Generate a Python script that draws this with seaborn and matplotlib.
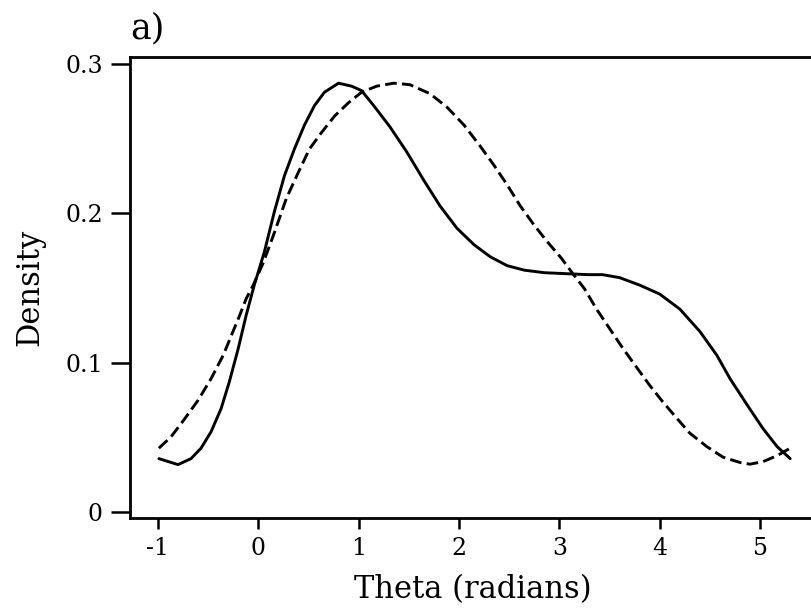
import numpy as np
import pandas as pd
import matplotlib
matplotlib.use("Agg")
import matplotlib.pyplot as plt
import seaborn as sns

# Kernel density estimate of the angles (solid)
theta_kde = [-0.99, -0.80, -0.67, -0.57, -0.47, -0.37, -0.29, -0.20, -0.12, -0.04,
             0.06, 0.16, 0.26, 0.36, 0.46, 0.56, 0.66, 0.80, 0.93, 1.03,
             1.15, 1.31, 1.48, 1.65, 1.81, 1.98, 2.15, 2.31, 2.48, 2.65,
             2.85, 3.05, 3.28, 3.43, 3.60, 3.80, 4.00, 4.20, 4.40, 4.57,
             4.70, 4.87, 5.03, 5.17, 5.30]
density_kde = [0.036, 0.032, 0.036, 0.043, 0.054, 0.0695, 0.087, 0.1095, 0.132, 0.152,
               0.174, 0.201, 0.225, 0.243, 0.259, 0.272, 0.281, 0.287, 0.285, 0.282,
               0.272, 0.258, 0.241, 0.222, 0.205, 0.190, 0.179, 0.171, 0.165, 0.162,
               0.1603, 0.1597, 0.159, 0.159, 0.157, 0.152, 0.146, 0.136, 0.121, 0.105,
               0.0895, 0.072, 0.056, 0.044, 0.036]

# Fitted model density (dashed)
theta_fit = [-0.99, -0.87, -0.74, -0.60, -0.47, -0.35, -0.27, -0.19, -0.12, -0.05,
             0.05, 0.16, 0.28, 0.40, 0.51, 0.63, 0.76, 0.90, 1.03, 1.18,
             1.35, 1.51, 1.71, 1.88, 2.05, 2.21, 2.35, 2.48, 2.61, 2.75,
             2.88, 3.02, 3.13, 3.25, 3.37, 3.50, 3.63, 3.77, 3.90, 4.03,
             4.17, 4.30, 4.47, 4.63, 4.80, 4.90, 5.03, 5.17, 5.30]
density_fit = [0.043, 0.0505, 0.062, 0.075, 0.0895, 0.105, 0.118, 0.131, 0.143, 0.152,
               0.167, 0.187, 0.210, 0.2275, 0.243, 0.254, 0.265, 0.274, 0.281, 0.285,
               0.287, 0.286, 0.280, 0.271, 0.259, 0.245, 0.232, 0.219, 0.205, 0.192,
               0.181, 0.170, 0.160, 0.1496, 0.136, 0.123, 0.110, 0.097, 0.085, 0.074,
               0.063, 0.053, 0.044, 0.037, 0.0334, 0.0323, 0.034, 0.038, 0.043]

x_ticks = [-1, 0, 1, 2, 3, 4, 5]
x_tick_labels = ["-1", "0", "1", "2", "3", "4", "5"]
y_ticks = [0, 0.1, 0.2, 0.3]
y_tick_labels = ["0", "0.1", "0.2", "0.3"]

df = pd.concat([
    pd.DataFrame({"theta": theta_kde, "density": density_kde, "curve": "kde"}),
    pd.DataFrame({"theta": theta_fit, "density": density_fit, "curve": "fit"}),
], ignore_index=True)

sns.set_style("ticks")
plt.rcParams["font.family"] = ["DejaVu Serif"]
plt.rcParams["text.color"] = "black"
plt.rcParams["axes.labelcolor"] = "black"

fig = plt.figure(figsize=(8.11, 6.09), dpi=100)
ax = fig.add_axes([0.1603, 0.1494, 0.845, 0.757])

sns.lineplot(data=df, x="theta", y="density", hue="curve", style="curve",
             palette={"kde": "black", "fit": "black"},
             dashes={"kde": "", "fit": (4, 1.8)},
             linewidth=2.1, sort=False, estimator=None, legend=False, ax=ax)
for line in ax.lines:
    line.set_solid_joinstyle("round")
    line.set_dash_joinstyle("round")

ax.set_xlim(-1.278, 5.55)
ax.set_ylim(-0.0037, 0.3045)
ax.set_xticks(x_ticks)
ax.set_xticklabels(x_tick_labels)
ax.set_yticks(y_ticks)
ax.set_yticklabels(y_tick_labels)

for side in ["left", "bottom", "top"]:
    ax.spines[side].set_linewidth(2.0)
    ax.spines[side].set_color("black")
ax.spines["right"].set_visible(False)

ax.tick_params(axis="both", colors="black", width=1.8, labelsize=17, pad=6)
ax.tick_params(axis="y", length=13.5)
ax.tick_params(axis="x", length=8)

ax.set_xlabel("Theta (radians)", fontsize=22, labelpad=10, color="black")
ax.set_ylabel("Density", fontsize=22, labelpad=14, color="black")
ax.set_title("a)", loc="left", fontsize=25, pad=13, color="black")

fig.savefig("out.png", dpi=100)
